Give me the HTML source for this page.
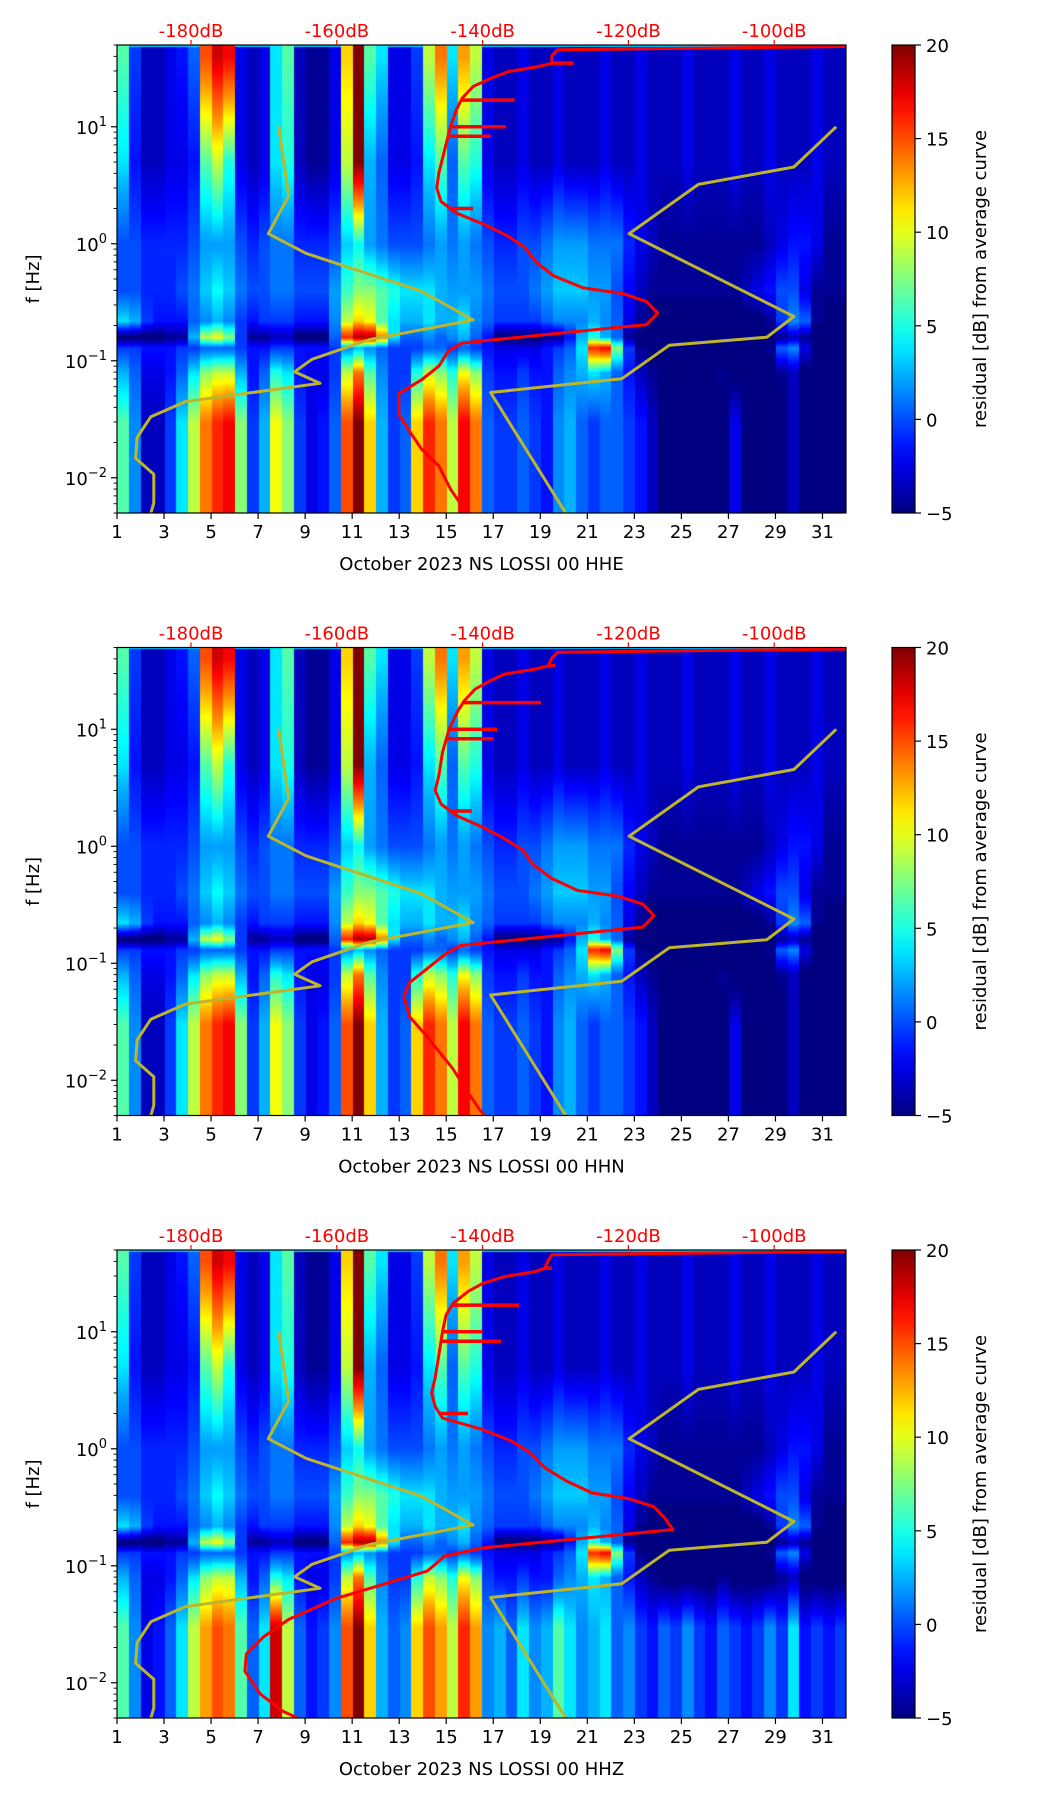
<!DOCTYPE html>
<html><head><meta charset="utf-8">
<style>
html,body{margin:0;padding:0;background:#fff;}
#wrap{position:relative;width:1052px;height:1806px;overflow:hidden;font-family:"DejaVu Sans","Liberation Sans",sans-serif;}
canvas{position:absolute;}
svg{position:absolute;left:0;top:0;}
</style></head>
<body>
<div id="wrap">
<canvas id="c0" width="729" height="468" style="left:117px;top:45px"></canvas>
<canvas id="c1" width="729" height="468" style="left:117px;top:647px"></canvas>
<canvas id="c2" width="729" height="468" style="left:117px;top:1250px"></canvas>
<svg id="ov" width="1052" height="1806"></svg>
</div>
<script>
// ---- spectrogram data: residual dB per half-day (62) at frequency nodes ----
const nodeFreqs=[40,5,1,0.4,0.22,0.16,0.13,0.08,0.03];
const n40=[8,2,-1,-1,0,1,3,15,18,17,0,-1,0,6,8,-1,-2,-2,0,12,20,8,6,0,0,2,10,14,6,13,10,0,-1,-1,0,-1,-1,0,-1,-1,-1,0,-1,-1,0,-1,-1,-1,0,-1,-1,-1,0,-1,-1,0,-1,-1,-1,0,-1,-1];
const n5=[6,1,-1,-1,0,0,1,8,10,7,0,-1,0,6,7,-1,-2,-2,0,10,20,5,3,0,0,1,6,8,3,8,7,0,-1,-1,0,-1,-1,0,-1,-1,-1,0,-1,-1,0,-1,-1,-1,0,-1,-1,-1,0,-1,-1,0,-1,-1,-1,0,-1,-1];
const n1=[2.5,2.5,1.5,1.5,1.5,1.5,2.5,4.5,4.5,4.5,2.5,1.5,2.5,3.5,3.5,1.5,1.5,1.5,2.5,5.5,6.5,4.5,3.5,2.5,2.5,2.5,3.5,4.5,3.5,4.5,3.5,2.5,1.5,1.5,2.5,2.5,3.5,4.5,4.5,4.5,3.5,3.5,3.5,1.5,0,-1,-2,-2,-2,-2,-2,-2,-2,-2,-2,-1,0,1,1,0,-2,-2];
const n04=[2.5,2.5,1.5,1.5,1.5,2.5,3.5,5.5,6.5,5.5,3.5,2.5,2.5,3.5,3.5,2.5,2.5,2.5,4.5,7.5,9,9,8,7,6,6,6,5,4.5,4.5,4.5,3.5,2.5,2.5,2.5,3.5,4.5,5.5,5.5,5.5,4.5,4.5,2.5,0.5,-1,-2,-2,-2,-2,-2,-2,-2,-2,-1,0,1,2.5,2.5,0,-2,-2,-2];
const n022=[6,5,2,1,1,1,3,4,5,4,2,1,2,2,2,1,1,1,4,10,12,11,8,6,5,5,6,5,5,6,4,3,2,2,2,2,3,4,4,4,5,4,3,0,-2,-3,-3,-3,-3,-3,-3,-3,-3,-3,-3,-2,2,4,3,-2,-3,-3];
const n016=[-3,-3,-3,-3,-2,-2,5,10,11,9,2,-2,-2,-1,-1,-3,-3,-3,3,16,19,19,14,6,3,3,4,3,4,5,3,1,-3,-3,-3,-3,-2,-2,1,5,7,5,3,-2,-4,-4,-4,-4,-4,-4,-4,-4,-4,-4,-4,-3,-2,-1,-2,-4,-4,-4];
const n013=[2,2,1,1,1,2,2,3,3,3,2,1,1,2,2,1,1,1,2,4,5,4,3,2,2,2,3,3,2,3,2,1,0,0,0,0,1,2,3,6,16,17,9,2,-2,-3,-4,-4,-4,-4,-4,-4,-4,-4,-4,-2,3,4,0,-4,-4,-4];
const n008=[5,3,0,0,1,3,6,9,10,10,5,1,3,7,6,1,0,0,2,10,14,8,4,2,2,7,10,9,7,11,9,2,1,1,2,1,1,3,4,5,6,5,3,1,-1,-2,-3,-3,-3,-3,-3,-2,-3,-3,-3,-3,-2,-1,-3,-3,-3,-3];
const n003=[8,4,-1,-1,2,6,10,14,16,17,9,2,5,11,9,2,0,1,3,15,20,12,5,2,3,12,16,14,10,17,14,3,2,2,3,2,1,4,5,3,2,3,3,2,1,-1,-3,-3,-3,-3,-3,-3,0,-3,-3,-3,-3,-1,-3,-3,-3,-3];
const n003z=[8,4,0,1,3,6,10,13,15,14,8,3,6,18,10,3,1,2,4,15,20,12,5,3,4,12,15,13,10,16,13,4,5,3,6,4,5,8,6,4,5,6,3,4,2,1,3,2,4,2,1,3,2,1,2,4,2,6,1,2,1,2];

// ---- average PSD curves (dB) vs frequency ----
const curveF=[49,48.5,45.6,40.7,34.8,32.5,29.6,25.9,22.1,17.6,14.0,10,6.36,4.04,3.01,2.30,1.83,1.46,1.16,0.93,0.69,0.53,0.42,0.375,0.32,0.255,0.204,0.170,0.142,0.121,0.090,0.0687,0.0523,0.0348,0.0248,0.0177,0.0126,0.0080,0.0057,0.00497];
const curveHHE=[-85,-90,-129.7,-130.5,-130.5,-132.6,-136.5,-138.9,-141.3,-142.8,-143.6,-144.4,-145.2,-146.0,-146.3,-145.7,-143.6,-139.7,-136.5,-134.2,-132.6,-130.2,-126.2,-120.7,-117.5,-116.0,-117.5,-130.2,-142.8,-144.7,-146.0,-148.4,-151.5,-151.5,-150.0,-148.4,-146.0,-144.4,-142.8,-142.1];
const curveHHN=[-85,-90,-129.7,-130.5,-131.0,-133.0,-137.0,-139.0,-141.0,-142.5,-143.5,-144.6,-145.5,-146.0,-146.5,-145.7,-143.6,-140.0,-137.0,-134.5,-133.0,-130.5,-127.0,-121.5,-118.0,-116.5,-118.0,-130.5,-143.0,-145.0,-147.6,-150.0,-150.8,-150.0,-147.9,-146.0,-144.1,-142.1,-140.5,-139.7];
const curveHHZ=[-85,-90,-130.5,-131.0,-131.5,-133.0,-137.0,-140.0,-142.0,-144.0,-145.0,-145.5,-146.0,-146.5,-147.0,-146.5,-145.5,-140.0,-136.0,-133.5,-131.5,-128.5,-125.0,-120.0,-116.5,-115.0,-113.9,-127.0,-140.0,-145.2,-147.6,-153.9,-160.2,-166.6,-170.0,-172.4,-172.6,-170.5,-167.4,-165.3];
const spikeF=[35,16.9,10,8.3,2.0];
const spikeHHE=[-127.5,-135.6,-136.8,-138.9,-141.3];
const spikeHHN=[-130.0,-132.0,-138.0,-138.5,-141.5];
const spikeHHZ=[-130.5,-135.0,-140.0,-137.5,-142.0];

// ---- Peterson noise models ----
const nlnmF=[10.2,2.57,1.22,0.828,0.393,0.223,0.152,0.103,0.0805,0.0642,0.0447,0.0333,0.0221,0.0147,0.0107,0.0061,0.005];
const nlnmDB=[-168.0,-166.6,-169.4,-164.2,-148.4,-141.3,-155.5,-163.4,-165.8,-162.3,-180.8,-185.5,-187.4,-187.6,-185.1,-185.1,-185.5];
const nhnmF=[10,4.53,3.22,1.22,0.239,0.159,0.1355,0.0703,0.0536,0.005];
const nhnmDB=[-91.5,-97.3,-110.4,-119.9,-97.3,-101.0,-114.4,-120.9,-138.9,-128.6];

const dbTicks=[-180,-160,-140,-120,-100];
const dayTicks=[1,3,5,7,9,11,13,15,17,19,21,23,25,27,29,31];
const cbTicks=[20,15,10,5,0,-5];
const panelNames=["HHE","HHN","HHZ"];

// ---- geometry ----
const L=117,W=729,H=468,TOPS=[45,647.5,1250];
const FMAX=50,FMIN=0.005;
const xDay=d=>L+(d-1)/31*W;
const yF=(f,t)=>t+(Math.log10(FMAX)-Math.log10(f))/(Math.log10(FMAX)-Math.log10(FMIN))*H;
const xDB=db=>191+(db+180)*7.29;

function jet(v){
  let t=(v+5)/25; t=Math.max(0,Math.min(1,t));
  const c=x=>Math.max(0,Math.min(1,x));
  return [c(1.5-Math.abs(4*t-3))*255,c(1.5-Math.abs(4*t-2))*255,c(1.5-Math.abs(4*t-1))*255];
}
function tone(v){
  if(v<=5) return v-2.5;
  if(v<=13) return v-2.5+(v-5)*2.5/8;
  return v;
}
function drawSpec(id,low){
  const cv=document.getElementById(id),ctx=cv.getContext('2d');
  const img=ctx.createImageData(W,H);
  const nodes=[n40,n5,n1,n04,n022,n016,n013,n008,low];
  const nl=nodeFreqs.map(f=>Math.log10(f));
  for(let py=0;py<H;py++){
    const lf=Math.log10(FMAX)-py/H*(Math.log10(FMAX)-Math.log10(FMIN));
    let k=0,w=0;
    if(lf>=nl[0]){k=0;w=0;} else if(lf<=nl[nl.length-1]){k=nl.length-2;w=1;}
    else{for(k=0;k<nl.length-1;k++){if(lf<=nl[k]&&lf>=nl[k+1])break;} w=(nl[k]-lf)/(nl[k]-nl[k+1]);}
    for(let px=0;px<W;px++){
      const i=Math.min(61,Math.floor(px/W*62));
      let v=tone(nodes[k][i]*(1-w)+nodes[k+1][i]*w);
      if(py<2) v=Math.max(v,3);
      const c=jet(v),o=(py*W+px)*4;
      img.data[o]=c[0];img.data[o+1]=c[1];img.data[o+2]=c[2];img.data[o+3]=255;
    }
  }
  ctx.putImageData(img,0,0);
}
drawSpec('c0',n003);drawSpec('c1',n003);drawSpec('c2',n003z);

const NS="http://www.w3.org/2000/svg",ov=document.getElementById('ov');
function mk(tag,attrs,parent){const e=document.createElementNS(NS,tag);for(const k in attrs)e.setAttribute(k,attrs[k]);(parent||ov).appendChild(e);return e;}

const defs=mk('defs',{});
const grad=mk('linearGradient',{id:'jetg',x1:0,y1:1,x2:0,y2:0},defs);
for(let s=0;s<=20;s++){const c=jet(-5+25*s/20);mk('stop',{offset:s/20,'stop-color':`rgb(${c.map(Math.round).join(',')})`},grad);}

const curves=[curveHHE,curveHHN,curveHHZ],spikes=[spikeHHE,spikeHHN,spikeHHZ];
const logInterp=(fs,vs,f)=>{for(let i=0;i<fs.length-1;i++){if(f<=fs[i]&&f>=fs[i+1]){const w=(Math.log10(fs[i])-Math.log10(f))/(Math.log10(fs[i])-Math.log10(fs[i+1]));return vs[i]*(1-w)+vs[i+1]*w;}}return vs[vs.length-1];};

TOPS.forEach((T,p)=>{
  const g=mk('g',{});
  
  
  const cp=mk('clipPath',{id:'clip'+p},defs);mk('rect',{x:L,y:T,width:W,height:H},cp);
  const cg=mk('g',{'clip-path':`url(#clip${p})`},g);
  [[nlnmF,nlnmDB,'nlnm-curve'],[nhnmF,nhnmDB,'nhnm-curve']].forEach(([fs,ds,nm])=>{
    const pl=mk('polyline',{points:fs.map((f,i)=>xDB(ds[i]).toFixed(1)+','+yF(f,T).toFixed(1)).join(' '),fill:'none',stroke:'#bdb62a','stroke-width':3,'stroke-linejoin':'round'},cg);
    
    
  });
  const cv=curves[p];
  const rl=mk('polyline',{points:curveF.map((f,i)=>xDB(cv[i]).toFixed(1)+','+yF(f,T).toFixed(1)).join(' '),fill:'none',stroke:'#ff0000','stroke-width':3,'stroke-linejoin':'round'},cg);
  
  
  spikeF.forEach((f,i)=>{
    const s=mk('line',{x1:xDB(logInterp(curveF,cv,f)),x2:xDB(spikes[p][i]),y1:yF(f,T),y2:yF(f,T),stroke:'#ff0000','stroke-width':3.5},cg);
    
    
  });
  const fr=mk('rect',{x:L,y:T,width:W,height:H,fill:'none',stroke:'#000','stroke-width':1.2},g);
  
  
  dayTicks.forEach(d=>{
    const x=xDay(d);
    mk('line',{x1:x,x2:x,y1:T+H,y2:T+H+6,stroke:'#000','stroke-width':1.2},g);
    const t=mk('text',{x:x,y:T+H+25,'text-anchor':'middle','font-size':18,fill:'#000'},g);
    t.textContent=d;
    
    
  });
  const xl=mk('text',{x:L+W/2,y:T+H+57,'text-anchor':'middle','font-size':18,fill:'#000'},g);
  xl.textContent='October 2023 NS LOSSI 00 '+panelNames[p];
  
  
  dbTicks.forEach(db=>{
    const x=xDB(db);
    mk('line',{x1:x,x2:x,y1:T,y2:T-5,stroke:'#ff0000','stroke-width':1.2},g);
    const t=mk('text',{x:x,y:T-8,'text-anchor':'middle','font-size':18,fill:'#ff0000'},g);
    t.textContent=db+'dB';
    
    
  });
  for(let e=-3;e<=1;e++){for(let k=1;k<=9;k++){const f=k*Math.pow(10,e);if(f<FMIN||f>FMAX)continue;const y=yF(f,T);
    mk('line',{x1:L,x2:L-(k==1?6:3.5),y1:y,y2:y,stroke:'#000','stroke-width':k==1?1.2:0.9},g);
    if(k==1){const t=mk('text',{x:L-10,y:y+7,'text-anchor':'end','font-size':18,fill:'#000'},g);
      t.textContent='10';const sp=mk('tspan',{dy:-8,'font-size':13},t);sp.textContent=e<0?'\u2212'+(-e):String(e);
      
      }
  }}
  const yl=mk('text',{x:0,y:0,transform:`translate(39,${T+H/2}) rotate(-90)`,'text-anchor':'middle','font-size':18,fill:'#000'},g);
  yl.textContent='f [Hz]';
  
  
  const cb=mk('rect',{x:892,y:T,width:23,height:H,fill:'url(#jetg)',stroke:'#000','stroke-width':1.2},g);
  
  
  cbTicks.forEach(v=>{const y=T+(20-v)/25*H;
    mk('line',{x1:915,x2:921,y1:y,y2:y,stroke:'#000','stroke-width':1.2},g);
    const t=mk('text',{x:926,y:y+7,'font-size':18,fill:'#000'},g);
    t.textContent=v<0?'\u2212'+(-v):String(v);
    
    });
  const cl=mk('text',{x:0,y:0,transform:`translate(986,${T+H/2}) rotate(-90)`,'text-anchor':'middle','font-size':18,fill:'#000'},g);
  cl.textContent='residual [dB] from average curve';
  
  
});
</script>
</body></html>
